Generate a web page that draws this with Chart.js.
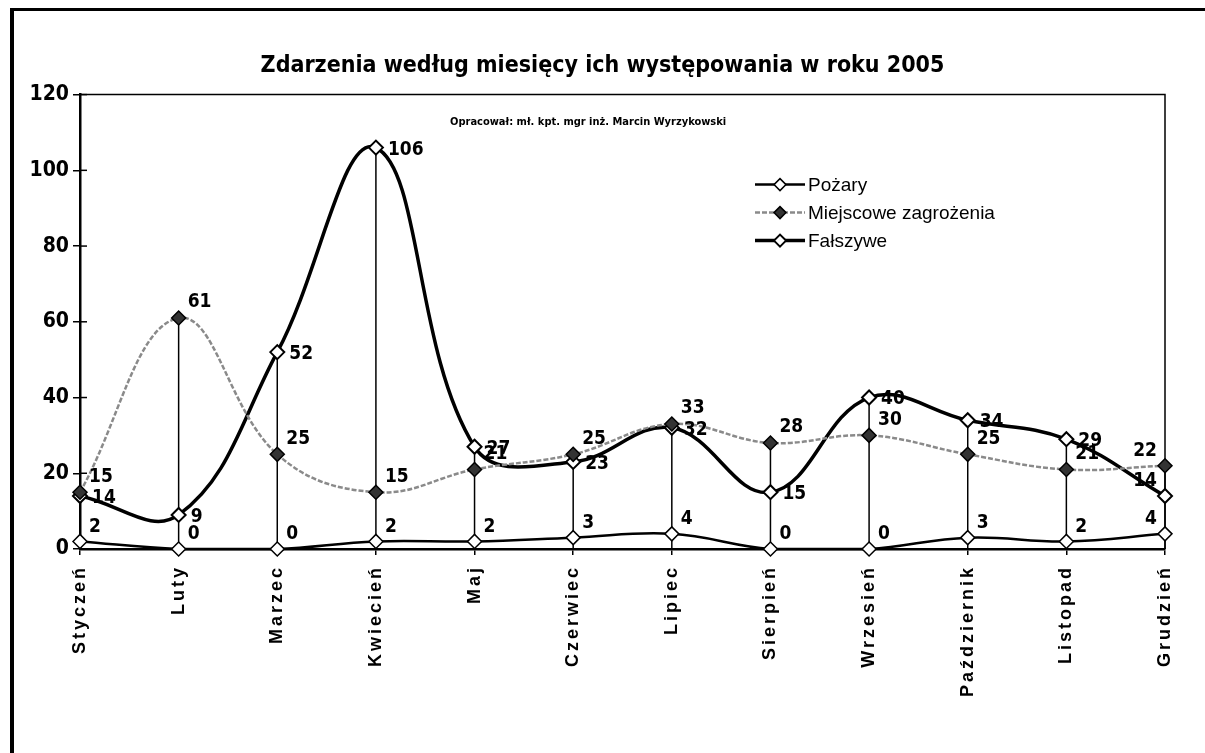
<!DOCTYPE html>
<html>
<head>
<meta charset="utf-8">
<script src="https://cdn.jsdelivr.net/npm/chart.js@4.4.1/dist/chart.umd.min.js"></script>
<style>
  html, body { margin: 0; padding: 0; background: #fff; }
  #wrap { position: relative; width: 1205px; height: 753px; overflow: hidden; }
  #ramka { position: absolute; left: 10px; top: 8px; width: 1200px; height: 760px;
           border-left: 4px solid #000; border-top: 3px solid #000; pointer-events: none; }
</style>
</head>
<body>
<div id="wrap">
  <canvas id="wykres" width="1205" height="753"></canvas>
  <div id="ramka"></div>
</div>
<script>
// Dane
const miesiace = ["Styczeń", "Luty", "Marzec", "Kwiecień", "Maj", "Czerwiec",
  "Lipiec", "Sierpień", "Wrzesień", "Październik", "Listopad", "Grudzień"];
const pozary = [2, 0, 0, 2, 2, 3, 4, 0, 0, 3, 2, 4];
const miejscowe = [15, 61, 25, 15, 21, 25, 33, 28, 30, 25, 21, 22];
const falszywe = [14, 9, 52, 106, 27, 23, 32, 15, 40, 34, 29, 14];
const osYmin = 0;
const osYmax = 120;
const osYkrok = 20;

const WASKI = "'Liberation Sans Narrow', 'DejaVu Sans Condensed', Arial, sans-serif";
const ZWYKLY = "'Liberation Sans', Arial, sans-serif";

// polozenie etykiet wartosci dla kazdej serii: [dx, dy, baseline]
const polozenieEtykiet = [
  [9, -5, "bottom"],
  [9, -6, "bottom"],
  [12, 2, "middle"],
];

// Linie pionowe od najwyzszego punktu do osi X
const linieSpadku = {
  id: "linieSpadku",
  beforeDatasetsDraw(chart) {
    const { ctx, chartArea, scales: { x, y } } = chart;
    ctx.save();
    ctx.strokeStyle = "#000";
    ctx.lineWidth = 1.5;
    miesiace.forEach((m, i) => {
      const maks = Math.max(...chart.data.datasets.map((d) => d.data[i]));
      const px = x.getPixelForValue(i);
      ctx.beginPath();
      ctx.moveTo(px, y.getPixelForValue(maks));
      ctx.lineTo(px, chartArea.bottom);
      ctx.stroke();
    });
    // gorna i prawa krawedz obszaru wykresu
    ctx.beginPath();
    ctx.moveTo(chartArea.left, chartArea.top);
    ctx.lineTo(chartArea.right, chartArea.top);
    ctx.lineTo(chartArea.right, chartArea.bottom);
    ctx.stroke();
    // kreski podzialki po wewnetrznej stronie osi Y
    y.ticks.forEach((t) => {
      const py = y.getPixelForValue(t.value);
      ctx.beginPath();
      ctx.moveTo(chartArea.left, py);
      ctx.lineTo(chartArea.left + 7, py);
      ctx.stroke();
    });
    ctx.restore();
  },
};

// Etykiety z wartosciami
const etykiety = {
  id: "etykiety",
  afterDatasetsDraw(chart) {
    const ctx = chart.ctx;
    ctx.save();
    ctx.font = "bold 19px " + WASKI;
    ctx.fillStyle = "#000";
    chart.data.datasets.forEach((ds, i) => {
      const meta = chart.getDatasetMeta(i);
      const [dx, dy, linia] = polozenieEtykiet[i];
      meta.data.forEach((pt, j) => {
        const ostatni = j === meta.data.length - 1;
        if (ostatni) {
          ctx.textAlign = "right";
          ctx.textBaseline = "bottom";
          ctx.fillText(String(ds.data[j]), pt.x - 8, pt.y - 5);
        } else {
          ctx.textAlign = "left";
          ctx.textBaseline = linia;
          ctx.fillText(String(ds.data[j]), pt.x + dx, pt.y + dy);
        }
      });
    });
    ctx.restore();
  },
};

// Legenda wewnatrz obszaru wykresu
const legenda = {
  id: "legenda",
  afterDraw(chart) {
    const { ctx, chartArea } = chart;
    const x0 = chartArea.left + 675;
    const y0 = chartArea.top + 90;
    chart.data.datasets.forEach((ds, i) => {
      const y = y0 + i * 28;
      ctx.save();
      ctx.strokeStyle = ds.borderColor;
      ctx.lineWidth = ds.borderWidth;
      ctx.setLineDash(ds.borderDash || []);
      ctx.beginPath();
      ctx.moveTo(x0, y);
      ctx.lineTo(x0 + 50, y);
      ctx.stroke();
      ctx.setLineDash([]);
      ctx.fillStyle = ds.pointBackgroundColor;
      ctx.strokeStyle = ds.pointBorderColor;
      ctx.lineWidth = ds.pointBorderWidth;
      Chart.helpers.drawPoint(ctx, { pointStyle: "rectRot", radius: 6, rotation: 0, borderWidth: ds.pointBorderWidth }, x0 + 25, y);
      ctx.fillStyle = "#000";
      ctx.font = "19px " + ZWYKLY;
      ctx.textAlign = "left";
      ctx.textBaseline = "middle";
      ctx.fillText(ds.label, x0 + 53, y + 1);
      ctx.restore();
    });
  },
};

// Podpis autora
const podpis = {
  id: "podpis",
  afterDraw(chart) {
    const { ctx, chartArea } = chart;
    ctx.save();
    ctx.font = "bold 11px " + WASKI;
    ctx.fillStyle = "#000";
    ctx.textAlign = "left";
    ctx.textBaseline = "middle";
    ctx.fillText("Opracował: mł. kpt. mgr inż. Marcin Wyrzykowski", chartArea.left + 370, chartArea.top + 28);
    ctx.restore();
  },
};

// Rozstrzelone nazwy miesiecy
const rozstrzelenie = {
  id: "rozstrzelenie",
  beforeDraw(chart) {
    const s = chart.scales.x;
    if (s._rozstrzelone) return;
    const oryg = s.drawLabels;
    s.drawLabels = function (area) {
      this.ctx.save();
      this.ctx.letterSpacing = "3px";
      oryg.call(this, area);
      this.ctx.restore();
    };
    s._rozstrzelone = true;
  },
};

const wykres = document.getElementById("wykres");

const chart = new Chart(wykres, {
  type: "line",
  data: {
    labels: miesiace,
    datasets: [
      {
        label: "Pożary",
        data: pozary,
        borderColor: "#000",
        borderWidth: 2.5,
        tension: 0.4,
        pointStyle: "rectRot",
        pointRadius: 7,
        pointBackgroundColor: "#fff",
        pointBorderColor: "#000",
        pointBorderWidth: 1.5,
        clip: false,
      },
      {
        label: "Miejscowe zagrożenia",
        data: miejscowe,
        borderColor: "#8a8a8a",
        borderWidth: 2.5,
        borderDash: [5, 2],
        tension: 0.4,
        pointStyle: "rectRot",
        pointRadius: 7,
        pointBackgroundColor: "#333",
        pointBorderColor: "#000",
        pointBorderWidth: 1.5,
        clip: false,
      },
      {
        label: "Fałszywe",
        data: falszywe,
        borderColor: "#000",
        borderWidth: 3.5,
        tension: 0.4,
        pointStyle: "rectRot",
        pointRadius: 7,
        pointBackgroundColor: "#fff",
        pointBorderColor: "#000",
        pointBorderWidth: 2,
        clip: false,
      },
    ],
  },
  options: {
    responsive: false,
    animation: false,
    layout: { padding: 0 },
    scales: {
      x: {
        offset: false,
        ticks: {
          autoSkip: false,
          minRotation: 90,
          maxRotation: 90,
          color: "#000",
          padding: 10,
          font: { family: ZWYKLY, size: 18, weight: "bold" },
        },
        grid: { drawOnChartArea: false, color: "#000", tickLength: 6, lineWidth: 1.5 },
        border: { color: "#000", width: 2.5 },
        afterFit(s) { s.height = 204; },
      },
      y: {
        min: osYmin,
        max: osYmax,
        ticks: {
          stepSize: osYkrok,
          color: "#000",
          padding: 4,
          font: { family: WASKI, size: 21, weight: "bold" },
        },
        grid: { drawOnChartArea: false, color: "#000", tickLength: 7, lineWidth: 1.5 },
        border: { color: "#000", width: 2.5 },
        afterFit(s) { s.width = 80; },
      },
      prawa: {
        type: "linear",
        position: "right",
        display: true,
        ticks: { display: false },
        grid: { display: false },
        border: { display: false },
        afterFit(s) { s.width = 40; },
      },
    },
    plugins: {
      legend: { display: false },
      tooltip: { enabled: false },
      title: {
        display: true,
        text: "Zdarzenia według miesięcy ich występowania w roku 2005",
        color: "#000",
        font: { family: WASKI, size: 23, weight: "bold" },
        padding: { top: 52, bottom: 15 },
      },
    },
  },
  plugins: [linieSpadku, etykiety, legenda, podpis, rozstrzelenie],
});
</script>
</body>
</html>
